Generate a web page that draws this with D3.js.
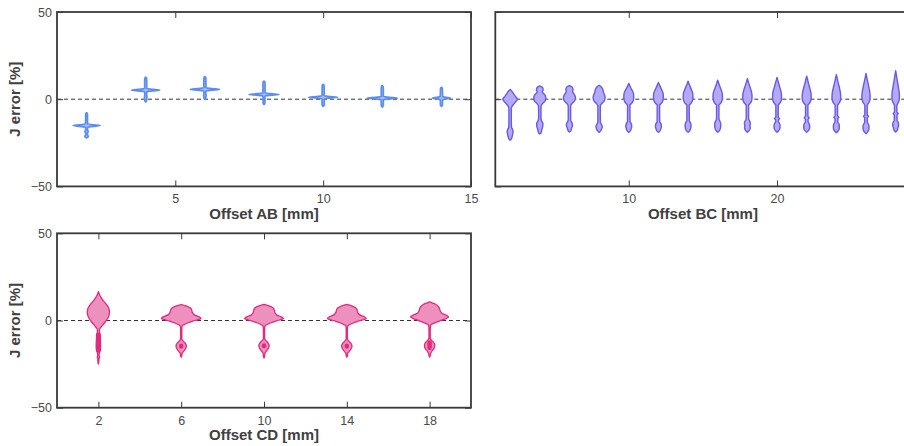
<!DOCTYPE html>
<html>
<head>
<meta charset="utf-8">
<script src="https://cdn.jsdelivr.net/npm/d3@7"></script>
<style>
  body { margin: 0; background: #fff; }
  svg { display: block; }
  text { font-family: "Liberation Sans", Arial, Helvetica, sans-serif; }
</style>
</head>
<body>
<svg id="chart" width="904" height="446"></svg>
<script>
// ---- Data: J error [%] density profiles, each point = [J error %, relative density] ----
const yTicks = [-50, 0, 50];

// Offset AB
const abOffsets = [2, 4, 6, 8, 10, 12, 14];
const abTicks = [5, 10, 15];
const abProfiles = [
  [[-22.2,0],[-21.8,0.08],[-21.2,0.12],[-20.5,0.06],[-19.3,0.06],[-18.5,0.12],[-17.8,0.06],[-16,0.07],[-15.55,0.45],[-15.1,0.9],[-14.65,0.45],[-14.2,0.07],[-11,0.06],[-8.6,0.06],[-8.1,0.04],[-7.8,0]],
  [[-1.6,0],[-1.2,0.04],[-0.5,0.06],[1.5,0.08],[2.5,0.06],[4.3,0.07],[4.75,0.45],[5.2,0.93],[5.65,0.45],[6.1,0.07],[9,0.07],[11.8,0.06],[12.3,0.04],[12.6,0]],
  [[-0.1,0],[0.3,0.04],[1,0.06],[2,0.08],[3.5,0.06],[4.7,0.07],[5.15,0.45],[5.6,0.97],[6.05,0.45],[6.5,0.07],[9.5,0.07],[12.2,0.06],[12.6,0.04],[12.9,0]],
  [[-3,0],[-2.6,0.04],[-2,0.06],[0,0.06],[1.8,0.07],[2.25,0.45],[2.7,1.0],[3.15,0.45],[3.6,0.07],[7,0.07],[9.7,0.06],[10.1,0.04],[10.4,0]],
  [[-4.1,0],[-3.7,0.04],[-3,0.07],[-1,0.07],[0.2,0.07],[0.65,0.45],[1.1,0.97],[1.55,0.45],[2,0.07],[5,0.07],[7.8,0.06],[8.2,0.04],[8.5,0]],
  [[-4.5,0],[-4.1,0.04],[-3.4,0.07],[-1,0.07],[-0.3,0.07],[0.15,0.45],[0.6,1.0],[1.05,0.45],[1.5,0.07],[4.5,0.07],[7,0.06],[7.4,0.04],[7.7,0]],
  [[-4.1,0],[-3.7,0.04],[-3,0.07],[-1,0.07],[-0.3,0.08],[0.15,0.3],[0.6,0.6],[1.05,0.3],[1.5,0.08],[4,0.07],[6.1,0.06],[6.5,0.04],[6.8,0]]
];

// Offset BC
const bcOffsets = [2, 4, 6, 8, 10, 12, 14, 16, 18, 20, 22, 24, 26, 28];
const bcTicks = [10, 20];
const bcProfiles = [
  [[-23.5,0],[-22.8,0.17],[-21.5,0.26],[-20,0.34],[-18.7,0.4],[-17.3,0.32],[-16,0.18],[-13,0.16],[-8,0.16],[-5,0.17],[-3.8,0.3],[-2,0.65],[0,0.96],[1.8,0.68],[3.5,0.4],[4.8,0.18],[5.6,0]],
  [[-20,0],[-19.2,0.17],[-17.5,0.26],[-15.5,0.4],[-14,0.42],[-12.6,0.26],[-11.3,0.16],[-6,0.16],[-3.8,0.18],[-2.6,0.35],[-1,0.72],[0.8,0.8],[2.3,0.7],[3.5,0.45],[4.3,0.33],[5.2,0.45],[6.4,0.4],[7.2,0.2],[7.6,0]],
  [[-18.8,0],[-18,0.18],[-16.5,0.29],[-15,0.42],[-13.6,0.34],[-12.3,0.18],[-11,0.16],[-6,0.16],[-3.6,0.18],[-2.4,0.35],[-0.8,0.72],[1,0.8],[2.5,0.68],[3.6,0.5],[4.5,0.42],[5.6,0.48],[6.8,0.38],[7.5,0.15],[7.8,0]],
  [[-19,0],[-18.3,0.18],[-16.9,0.34],[-15.8,0.42],[-14.5,0.32],[-13.2,0.17],[-6,0.16],[-3.5,0.18],[-2.3,0.4],[-0.7,0.72],[1,0.8],[2.7,0.7],[4,0.58],[5,0.53],[6.2,0.43],[7.2,0.25],[8,0]],
  [[-19,0],[-18.3,0.18],[-17,0.32],[-15.5,0.4],[-14,0.32],[-12.8,0.17],[-6,0.16],[-3.4,0.16],[-2.5,0.36],[-1,0.58],[1,0.66],[3,0.64],[4.8,0.48],[6.6,0.26],[8.1,0.1],[9,0]],
  [[-19,0],[-18.3,0.18],[-17,0.32],[-15.5,0.4],[-14,0.32],[-12.8,0.17],[-6,0.16],[-3.4,0.16],[-2.5,0.36],[-1,0.58],[1,0.66],[3,0.64],[5.0,0.48],[7.0,0.26],[8.6,0.1],[9.6,0]],
  [[-19,0],[-18.3,0.18],[-16.8,0.34],[-15,0.4],[-13.5,0.32],[-12.3,0.17],[-6,0.16],[-3.4,0.16],[-2.5,0.36],[-1,0.57],[1,0.65],[3,0.63],[5.2,0.47],[7.4,0.26],[9.2,0.1],[10.3,0]],
  [[-18.9,0],[-18.2,0.18],[-17,0.34],[-15.3,0.4],[-14,0.4],[-12.6,0.29],[-11.5,0.16],[-6,0.16],[-3.4,0.16],[-2.5,0.35],[-1,0.55],[1,0.63],[3,0.61],[5.4,0.45],[7.7,0.25],[9.7,0.09],[10.9,0]],
  [[-18.9,0],[-18.2,0.18],[-16.5,0.38],[-15,0.34],[-14,0.4],[-12.6,0.32],[-11.5,0.16],[-6,0.16],[-3.4,0.16],[-2.5,0.34],[-1,0.55],[1,0.62],[3,0.6],[5.6,0.45],[8.2,0.25],[10.4,0.09],[11.7,0]],
  [[-18.9,0],[-18.2,0.18],[-16.8,0.38],[-15.5,0.4],[-14,0.34],[-13,0.18],[-12,0.18],[-11.1,0.34],[-10.3,0.16],[-6,0.16],[-3.4,0.16],[-2.5,0.33],[-1,0.53],[1,0.6],[3,0.58],[5.9,0.43],[8.7,0.24],[11.1,0.09],[12.5,0]],
  [[-19,0],[-18.3,0.18],[-16.8,0.38],[-15.5,0.4],[-14.2,0.34],[-13,0.18],[-11.5,0.18],[-10.6,0.34],[-9.8,0.16],[-6,0.16],[-3.4,0.16],[-2.5,0.33],[-1,0.53],[1,0.6],[3,0.58],[6.1,0.43],[9.1,0.24],[11.7,0.09],[13.2,0]],
  [[-19.3,0],[-18.5,0.18],[-17,0.38],[-15.5,0.4],[-14.2,0.34],[-13,0.18],[-11.2,0.18],[-10.3,0.34],[-9.5,0.16],[-6,0.16],[-3.4,0.16],[-2.5,0.32],[-1,0.51],[1,0.58],[3,0.56],[6.3,0.42],[9.6,0.23],[12.4,0.09],[14,0]],
  [[-19.8,0],[-19,0.18],[-17.3,0.38],[-15.8,0.4],[-14.5,0.34],[-13.2,0.18],[-10.7,0.18],[-9.8,0.34],[-9,0.16],[-6,0.16],[-3.4,0.16],[-2.5,0.3],[-1,0.48],[1,0.55],[3,0.53],[6.5,0.4],[10.1,0.22],[13,0.08],[14.8,0]],
  [[-18.8,0],[-18,0.18],[-16.5,0.29],[-14.8,0.4],[-13.3,0.34],[-12,0.18],[-9.1,0.18],[-8.2,0.34],[-7.4,0.16],[-5,0.16],[-3.4,0.16],[-2.5,0.28],[-1,0.44],[1,0.5],[3,0.49],[7,0.36],[11,0.2],[14.3,0.08],[16.3,0]]
];

// Offset CD
const cdOffsets = [2, 6, 10, 14, 18];
const cdTicks = [2, 6, 10, 14, 18];
const cdProfiles = [
  [[-25,0],[-24,0.02],[-22,0.03],[-21,0.06],[-20,0.03],[-18.5,0.05],[-17,0.1],[-14,0.11],[-11,0.1],[-8,0.09],[-6.5,0.05],[-5.2,0.05],[-3.5,0.15],[-1,0.33],[2,0.5],[4.8,0.555],[7,0.52],[9.5,0.38],[12,0.2],[14.5,0.07],[16.5,0]],
  [[-21,0],[-20.3,0.03],[-19,0.04],[-18,0.1],[-16.5,0.2],[-14.7,0.26],[-13,0.2],[-11.6,0.08],[-10.5,0.03],[-6,0.03],[-3.5,0.04],[-2.6,0.1],[-1.3,0.35],[0,0.68],[1.2,0.99],[2.2,0.88],[3.2,0.66],[4.5,0.56],[5.8,0.53],[7,0.48],[8,0.33],[8.7,0.14],[9.2,0]],
  [[-21.4,0],[-20.6,0.03],[-19,0.04],[-17.8,0.1],[-16.3,0.2],[-14.5,0.26],[-12.8,0.2],[-11.4,0.08],[-10.3,0.03],[-6,0.03],[-3.5,0.04],[-2.6,0.1],[-1.3,0.35],[0,0.68],[1.1,0.97],[2.1,0.86],[3.1,0.65],[4.4,0.55],[5.7,0.52],[7,0.47],[8.1,0.33],[8.8,0.14],[9.3,0]],
  [[-21,0],[-20.3,0.03],[-19,0.04],[-18,0.1],[-16.5,0.2],[-14.7,0.26],[-13,0.2],[-11.6,0.08],[-10.5,0.03],[-6,0.03],[-3.5,0.04],[-2.6,0.1],[-1.3,0.35],[0,0.68],[1.2,0.97],[2.2,0.86],[3.2,0.65],[4.5,0.55],[5.8,0.52],[7,0.47],[8,0.33],[8.8,0.14],[9.3,0]],
  [[-21,0],[-20.3,0.03],[-19,0.05],[-17.5,0.12],[-16,0.22],[-14,0.26],[-12.3,0.18],[-11,0.07],[-10,0.03],[-6,0.03],[-3.2,0.04],[-2.2,0.1],[-0.9,0.35],[0.6,0.7],[2,0.95],[3,0.84],[4,0.63],[5.3,0.54],[6.6,0.5],[8,0.44],[9.3,0.3],[10.1,0.12],[10.7,0]]
];
// Dense run of the lower cluster in each CD violin: [low, high] J error %
const cdClusterLow = [-17.2, -14.9, -14.7, -14.9, -15.6];
const cdClusterHigh = [-8.2, -14.5, -14.3, -14.5, -12.6];

// ---- Drawing ----
const svg = d3.select("#chart");
const frameColor = "#3a3a3a";
const tickTextColor = "#4a4a4a";
const titleColor = "#404040";

function drawPanel(cfg) {
  const g = svg.append("g");
  const x = d3.scaleLinear().domain(cfg.xDomain).range([cfg.left, cfg.left + cfg.width]);
  const y = d3.scaleLinear().domain([-50, 50]).range([cfg.top + cfg.height, cfg.top]);
  const w = d3.scaleLinear().domain([0, 1]).range([0, cfg.unitPx]);

  // zero reference line
  g.append("line")
    .attr("x1", x.range()[0]).attr("x2", x.range()[1])
    .attr("y1", y(0)).attr("y2", y(0))
    .attr("stroke", "#333").attr("stroke-width", 1)
    .attr("stroke-dasharray", "4,3");

  // violins
  cfg.offsets.forEach((off, i) => {
    const cx = x(off);
    const area = d3.area()
      .curve(d3.curveMonotoneY)
      .y(d => y(d[0]))
      .x0(d => cx - w(d[1]))
      .x1(d => cx + w(d[1]));
    g.append("path")
      .attr("d", area(cfg.profiles[i]))
      .attr("fill", cfg.fill)
      .attr("stroke", cfg.stroke)
      .attr("stroke-width", cfg.strokeWidth)
      .attr("stroke-linejoin", "round");
    if (cfg.clusterLow) {
      g.append("line")
        .attr("x1", cx).attr("x2", cx)
        .attr("y1", y(cfg.clusterLow[i])).attr("y2", y(cfg.clusterHigh[i]))
        .attr("stroke", cfg.stroke)
        .attr("stroke-width", i === 0 ? 4 : 4.4)
        .attr("stroke-linecap", "round");
    }
  });

  // axes: ticks point inward on all four sides
  const bottom = g.append("g")
    .attr("transform", `translate(0,${cfg.top + cfg.height})`)
    .call(d3.axisBottom(x).tickValues(cfg.xTicks).tickSizeInner(-6).tickSizeOuter(0).tickPadding(8));
  const top = g.append("g")
    .attr("transform", `translate(0,${cfg.top})`)
    .call(d3.axisTop(x).tickValues(cfg.xTicks).tickSizeInner(-6).tickSizeOuter(0).tickFormat(""));
  const left = g.append("g")
    .attr("transform", `translate(${cfg.left},0)`)
    .call(d3.axisLeft(y).tickValues(yTicks).tickSizeInner(-6).tickSizeOuter(0).tickPadding(5)
      .tickFormat(cfg.yLabels ? d3.format("d") : () => ""));
  const right = g.append("g")
    .attr("transform", `translate(${cfg.left + cfg.width},0)`)
    .call(d3.axisRight(y).tickValues(yTicks).tickSizeInner(-6).tickSizeOuter(0).tickFormat(""));

  [bottom, top, left, right].forEach(a => {
    a.select(".domain").remove();
    a.selectAll(".tick line").attr("stroke", frameColor).attr("stroke-width", 1);
    a.selectAll(".tick text")
      .attr("fill", tickTextColor)
      .style("font-size", "12.5px")
      .style("font-family", '"Liberation Sans", Arial, sans-serif');
  });

  // frame
  g.append("rect")
    .attr("x", cfg.left).attr("y", cfg.top)
    .attr("width", cfg.width).attr("height", cfg.height)
    .attr("fill", "none").attr("stroke", frameColor).attr("stroke-width", 1.8);

  // titles
  g.append("text")
    .attr("x", cfg.left + cfg.width / 2)
    .attr("y", cfg.top + cfg.height + 32.5)
    .attr("text-anchor", "middle")
    .attr("fill", titleColor)
    .style("font-size", "15px").style("font-weight", "bold")
    .text(cfg.xTitle);
  if (cfg.yTitle) {
    g.append("text")
      .attr("transform", `translate(20,${cfg.top + cfg.height / 2}) rotate(-90)`)
      .attr("text-anchor", "middle")
      .attr("fill", titleColor)
      .style("font-size", "15px").style("font-weight", "bold")
      .text(cfg.yTitle);
  }
}

drawPanel({
  left: 57, top: 12, width: 414, height: 174.4,
  xDomain: [1, 15], xTicks: abTicks, yLabels: true,
  offsets: abOffsets, profiles: abProfiles, unitPx: 15, strokeWidth: 1.7,
  fill: "#a9c4f8", stroke: "#5b8cef",
  xTitle: "Offset AB [mm]", yTitle: "J error [%]"
});

drawPanel({
  left: 495.3, top: 12, width: 415.2, height: 174.4,
  xDomain: [1, 29], xTicks: bcTicks, yLabels: false,
  offsets: bcOffsets, profiles: bcProfiles, unitPx: 7.5, strokeWidth: 1.4,
  fill: "#b3aaf6", stroke: "#6a59e4",
  xTitle: "Offset BC [mm]", yTitle: null
});

drawPanel({
  left: 57, top: 233.3, width: 414, height: 174.4,
  xDomain: [0, 20], xTicks: cdTicks, yLabels: true,
  offsets: cdOffsets, profiles: cdProfiles, unitPx: 20, strokeWidth: 1.3,
  clusterLow: cdClusterLow, clusterHigh: cdClusterHigh,
  fill: "#ee90bd", stroke: "#df2a7d",
  xTitle: "Offset CD [mm]", yTitle: "J error [%]"
});
</script>
</body>
</html>
